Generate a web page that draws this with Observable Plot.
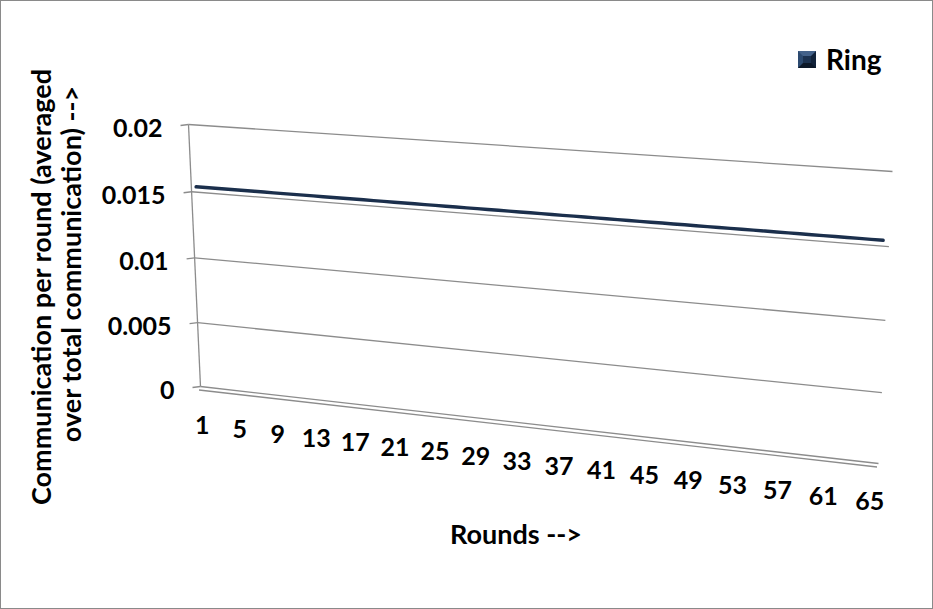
<!DOCTYPE html>
<html>
<head>
<meta charset="utf-8">
<script src="https://cdn.jsdelivr.net/npm/d3@7"></script>
<script src="https://cdn.jsdelivr.net/npm/@observablehq/plot@0.6"></script>
<style>
  html, body { margin: 0; padding: 0; background: #fff; }
  #chart { position: relative; width: 933px; height: 609px; overflow: hidden;
           font-family: Lato, "Open Sans", "DejaVu Sans", sans-serif; font-weight: bold; color: #000; }
  #chart svg { position: absolute; left: 0; top: 0; }
  .frame { position: absolute; left: 0; top: 0; width: 933px; height: 609px; box-sizing: border-box;
           border: 1px solid #8a8a8a; pointer-events: none; }
  .ytitle { position: absolute; font-size: 27px; line-height: 1; white-space: nowrap;
            transform: translate(-50%, -50%) rotate(-90deg); }
  .xtitle { position: absolute; left: 516px; top: 533px; font-size: 27px; line-height: 1;
            white-space: nowrap; transform: translate(-50%, -50%); }
  .legend { position: absolute; left: 798px; top: 45px; height: 28px; display: flex; align-items: center; }
  .swatch { width: 8px; height: 7px; background: #1c3250;
            border-style: solid; border-width: 5px;
            border-top-color: #44628a; border-left-color: #2c4a70;
            border-right-color: #12233a; border-bottom-color: #0c1828; }
  .legend span { font-size: 28px; line-height: 1; margin-left: 10px; }
</style>
</head>
<body>
<div id="chart"></div>
<script>
// ---------------- data ----------------
const rounds = [1,2,3,4,5,6,7,8,9,10,11,12,13,14,15,16,17,18,19,20,21,22,23,24,25,26,27,28,29,30,
  31,32,33,34,35,36,37,38,39,40,41,42,43,44,45,46,47,48,49,50,51,52,53,54,55,56,57,58,59,60,
  61,62,63,64,65];
const ringValues = [0.0154,0.0154,0.0154,0.0154,0.0154,0.0154,0.0154,0.0154,0.0154,0.0154,
  0.0154,0.0154,0.0154,0.0154,0.0154,0.0154,0.0154,0.0154,0.0154,0.0154,
  0.0154,0.0154,0.0154,0.0154,0.0154,0.0154,0.0154,0.0154,0.0154,0.0154,
  0.0154,0.0154,0.0154,0.0154,0.0154,0.0154,0.0154,0.0154,0.0154,0.0154,
  0.0154,0.0154,0.0154,0.0154,0.0154,0.0154,0.0154,0.0154,0.0154,0.0154,
  0.0154,0.0154,0.0154,0.0154,0.0154,0.0154,0.0154,0.0154,0.0154,0.0154,
  0.0154,0.0154,0.0154,0.0154,0.0154];
const xTickRounds = [1,5,9,13,17,21,25,29,33,37,41,45,49,53,57,61,65];
const xTickLabels = ["1","5","9","13","17","21","25","29","33","37","41","45","49","53","57","61","65"];
const yTickValues = [0, 0.005, 0.01, 0.015, 0.02];
const yTickLabels = ["0", "0.005", "0.01", "0.015", "0.02"];
const seriesName = "Ring";
const xTitle = "Rounds -->";
const yTitleLines = ["Communication per round (averaged", "over total communication) -->"];
const roundDomain = [0.5, 65.5];
const valueDomain = [0, 0.02];

// ---------------- 3-D wall (perspective) ----------------
function quadMap(p00, p10, p11, p01) {
  const [x0, y0] = p00, [x1, y1] = p10, [x2, y2] = p11, [x3, y3] = p01;
  const dx1 = x1 - x2, dx2 = x3 - x2, dx3 = x0 - x1 + x2 - x3;
  const dy1 = y1 - y2, dy2 = y3 - y2, dy3 = y0 - y1 + y2 - y3;
  const den = dx1 * dy2 - dy1 * dx2;
  const g = (dx3 * dy2 - dy3 * dx2) / den, h = (dx1 * dy3 - dy1 * dx3) / den;
  const a = x1 - x0 + g * x1, b = x3 - x0 + h * x3, c = x0;
  const d = y1 - y0 + g * y1, e = y3 - y0 + h * y3, f = y0;
  return (u, v) => { const w = g * u + h * v + 1; return [(a * u + b * v + c) / w, (d * u + e * v + f) / w]; };
}
const wall = quadMap([200, 386], [878, 463], [892, 171], [188, 124]);
const uScale = d3.scaleLinear().domain(roundDomain).range([0, 1]);
const vScale = d3.scaleLinear().domain(valueDomain).range([0, 1]);
const projection = d3.geoTransform({
  point(x, y) { const [px, py] = wall(uScale(x), vScale(y)); this.stream.point(px, py); }
});

const tickSymbol = { draw(ctx) { ctx.moveTo(-8, 1); ctx.lineTo(0, 0); } };

const ringData = rounds.map((r, i) => ({round: r, value: ringValues[i]}));
const grid = "#8c8c8c";
const font = {fontFamily: "Lato, 'Open Sans', sans-serif", fontWeight: "bold", fill: "#000"};

const plot = Plot.plot({
  width: 933,
  height: 609,
  margin: 0,
  projection,
  style: {background: "transparent", overflow: "visible"},
  marks: [
    Plot.link(yTickValues, {x1: roundDomain[0], x2: roundDomain[1], y1: d => d, y2: d => d,
      stroke: grid, strokeWidth: 1.3}),
    Plot.link([valueDomain[0]], {x1: roundDomain[0], x2: roundDomain[1], y1: d => d, y2: d => d,
      dx: -1.5, dy: 3.5, stroke: grid, strokeWidth: 1.3}),
    Plot.link([valueDomain], {x1: roundDomain[0], x2: roundDomain[0], y1: d => d[0], y2: d => d[1],
      stroke: grid, strokeWidth: 1.3}),
    Plot.dot(yTickValues, {x: roundDomain[0], y: d => d, symbol: tickSymbol, r: 4,
      stroke: grid, strokeWidth: 1.3, fill: "none"}),
    Plot.line(ringData, {x: "round", y: "value", stroke: "#1b2f4c", strokeWidth: 3.4}),
    Plot.text(yTickValues, {x: roundDomain[0], y: d => d, text: (d, i) => yTickLabels[i],
      textAnchor: "end", dx: -26, dy: 4, fontSize: 25, ...font}),
    Plot.text(xTickRounds, {x: d => d, y: valueDomain[0], text: (d, i) => xTickLabels[i],
      textAnchor: "middle", dx: -3, dy: 39, fontSize: 25, ...font})
  ]
});

const chart = document.getElementById("chart");
chart.appendChild(plot);

const yCenters = [[40, 287], [70, 264]];
yTitleLines.forEach((s, i) => {
  const el = document.createElement("div");
  el.className = "ytitle";
  el.style.left = yCenters[i][0] + "px";
  el.style.top = yCenters[i][1] + "px";
  el.textContent = s;
  chart.appendChild(el);
});

const xt = document.createElement("div");
xt.className = "xtitle";
xt.textContent = xTitle;
chart.appendChild(xt);

const lg = document.createElement("div");
lg.className = "legend";
const sw = document.createElement("div");
sw.className = "swatch";
const lbl = document.createElement("span");
lbl.textContent = seriesName;
lg.appendChild(sw);
lg.appendChild(lbl);
chart.appendChild(lg);

const fr = document.createElement("div");
fr.className = "frame";
chart.appendChild(fr);
</script>
</body>
</html>
